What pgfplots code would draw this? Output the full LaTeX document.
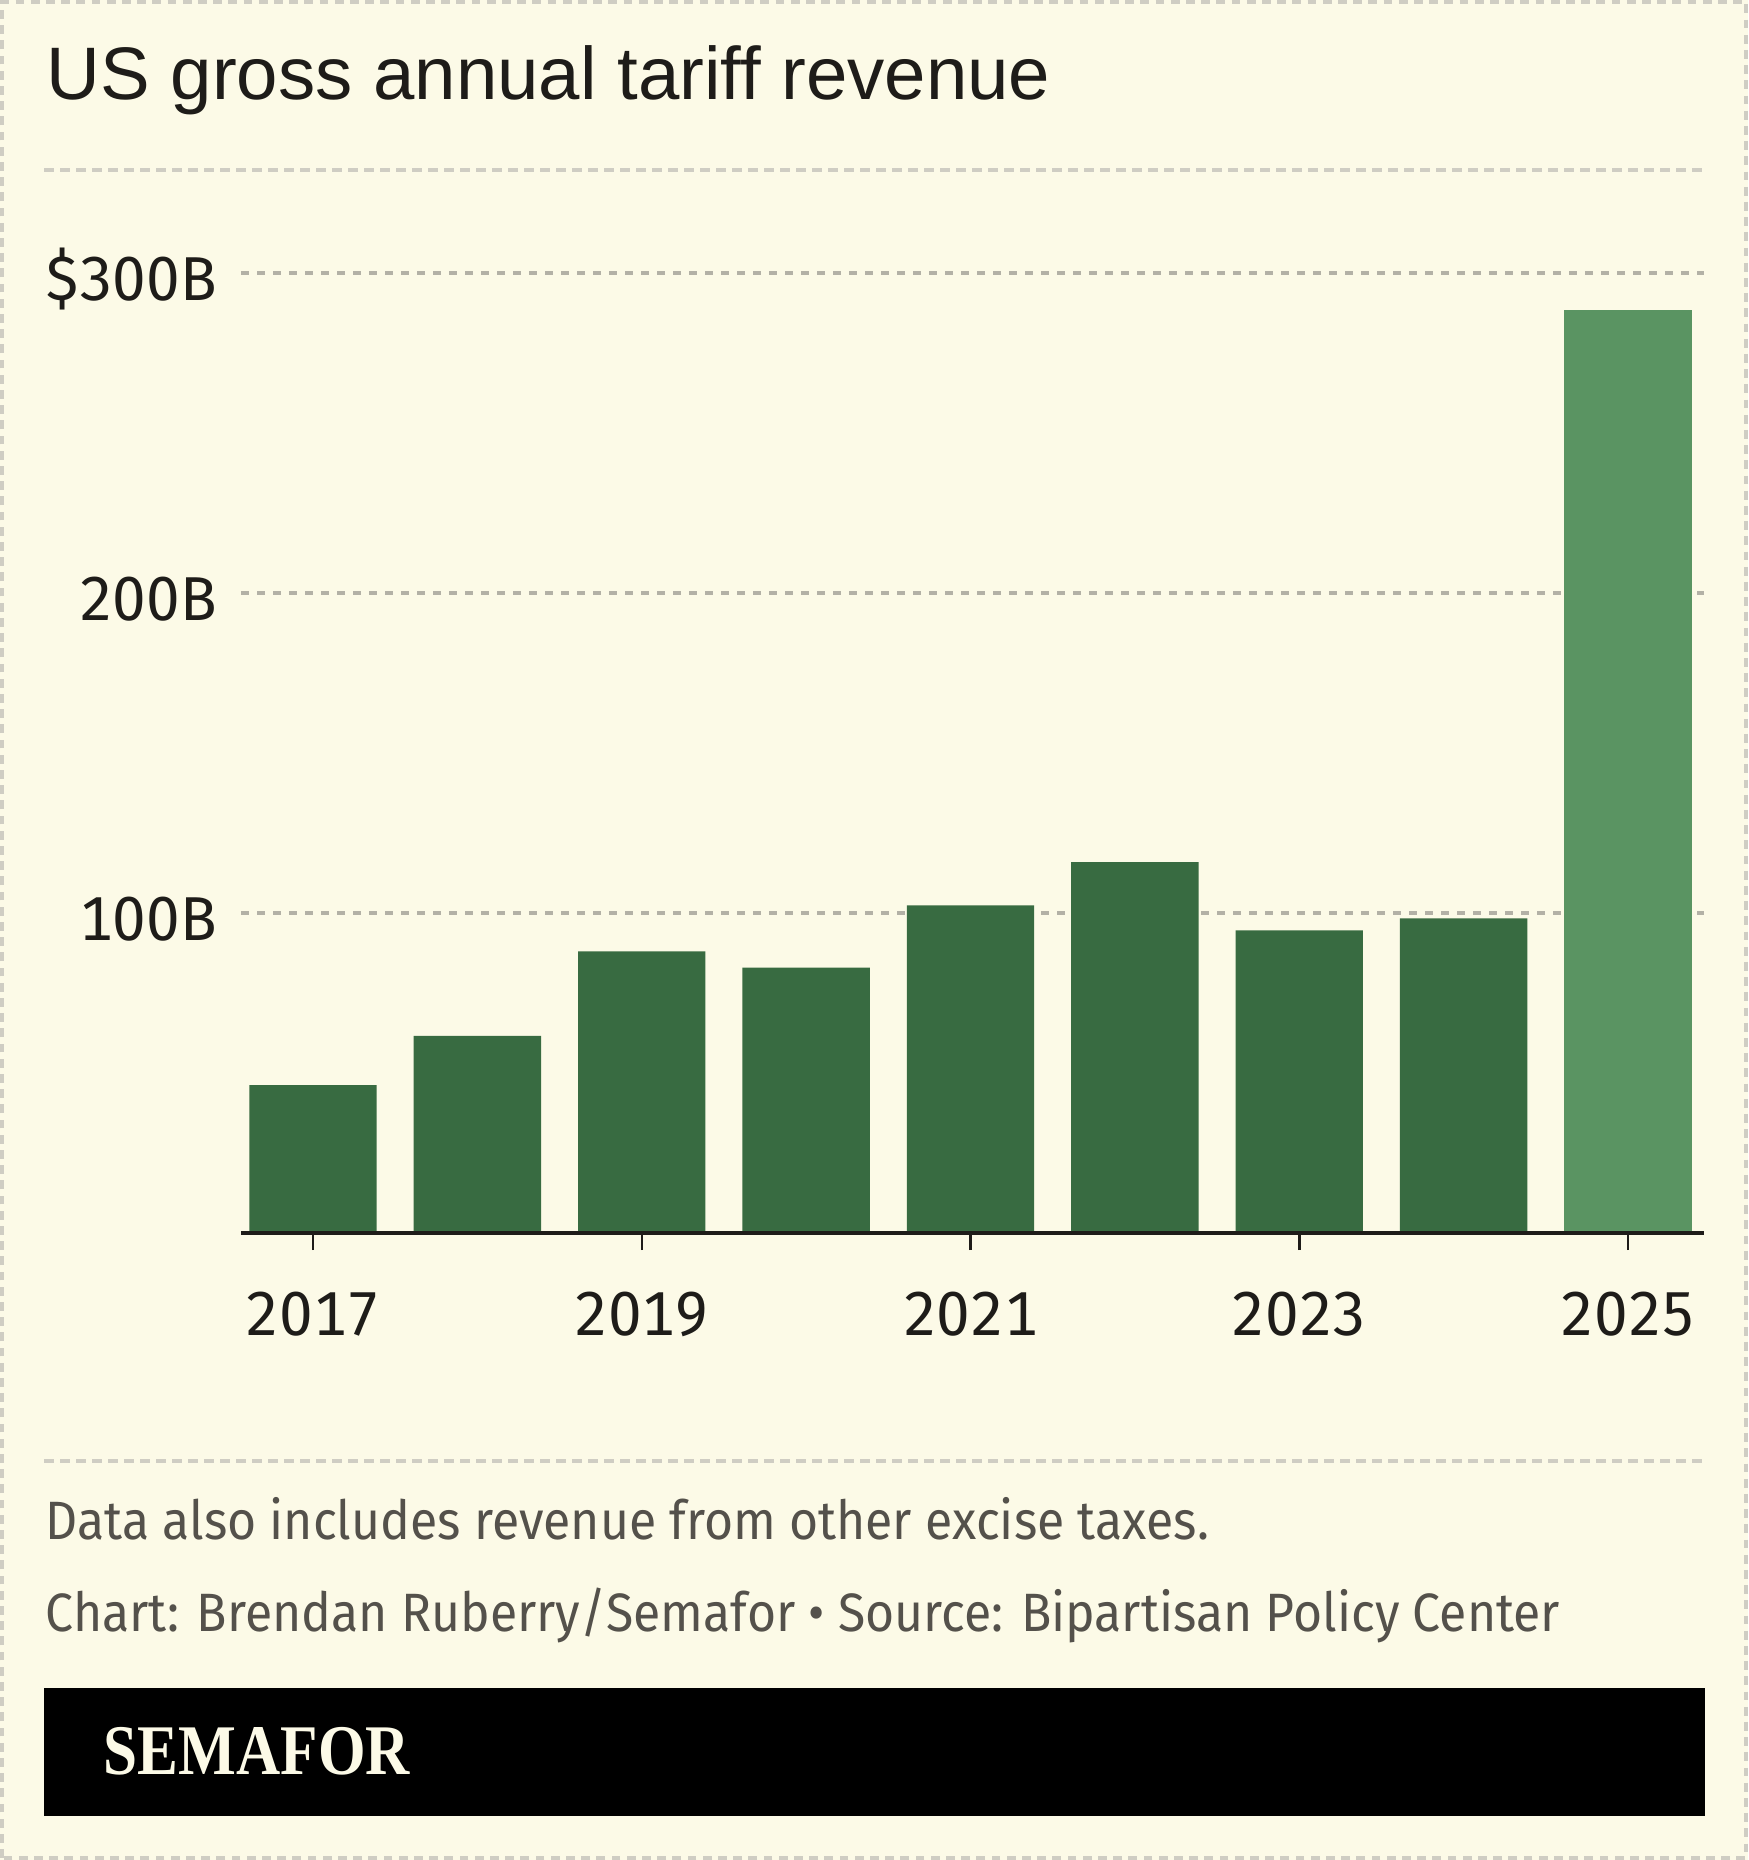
\documentclass[border=0pt]{standalone}
\usepackage{fontspec}
\setmainfont{Fira Sans}[FakeStretch=0.925]
\newfontfamily\tickfont{Fira Sans}[Numbers=Monospaced, FakeStretch=0.97]
\newfontfamily\titlefont{Liberation Sans}
\newfontfamily\logofont{Liberation Serif}[FakeStretch=0.86]
\usepackage{pgfplots}
\pgfplotsset{compat=1.18}
\definecolor{bg}{HTML}{FCFAE7}
\definecolor{darkgreen}{HTML}{386B41}
\definecolor{lightgreen}{HTML}{5A9462}
\definecolor{gridgray}{HTML}{B3B1A6}
\definecolor{sepgray}{HTML}{CFCDC3}
\definecolor{inkblack}{HTML}{1E1C19}
\definecolor{footgray}{HTML}{54514B}
\begin{document}
\begin{tikzpicture}
\useasboundingbox (0,0) rectangle (437pt,465pt);
\fill[bg] (0,0) rectangle (437pt,465pt);
\draw[sepgray, line width=0.8pt, dash pattern=on 2.2pt off 1.6pt] (0.5pt,0.5pt) rectangle (436.5pt,464.5pt);
% title
\node[anchor=base west, inner sep=0pt, text=inkblack, font=\titlefont\fontsize{18.6}{21}\selectfont] at (11.5pt,440pt) {US gross annual tariff revenue};
\draw[sepgray, line width=1pt, dash pattern=on 2.5pt off 1.5pt] (11pt,422.5pt) -- (426pt,422.5pt);
\begin{axis}[
  at={(60.25pt,156.75pt)}, anchor=south west,
  scale only axis, width=365.75pt, height=240pt,
  xmin=2016.562, xmax=2025.462, ymin=0, ymax=300,
  axis lines*=left,
  axis line style={-},
  y axis line style={draw=none},
  x axis line style={draw=none},
  ytick style={draw=none},
  xtick style={line width=0.6pt, color=inkblack},
  tick align=outside,
  major tick length=4.3pt,
  xtick={2017,2019,2021,2023,2025},
  xticklabels={2017,2019,2021,2023,2025},
  ytick={100,200,300},
  yticklabels={100B,200B,\$300B},
  ymajorgrids,
  grid style={line width=0.9pt, color=gridgray, dash pattern=on 1.9pt off 2.1pt},
  ticklabel style={font=\tickfont\fontsize{15.5}{18}\selectfont, text=inkblack},
  xticklabel style={anchor=north, yshift=-7pt},
  yticklabel style={anchor=east, xshift=1.8pt, yshift=-1.5pt},
  clip=false,
]
\addplot[ybar, bar width=0.775, bar shift=0pt, fill=darkgreen, draw=none] coordinates {
  (2017,46.2) (2018,61.6) (2019,88.0) (2020,82.9) (2021,102.4) (2022,115.9) (2023,94.6) (2024,98.3)
};
\addplot[ybar, bar width=0.775, bar shift=0pt, fill=lightgreen, draw=none] coordinates {
  (2025,288.5)
};
\draw[inkblack, line width=1.1pt] (rel axis cs:0,0) -- (rel axis cs:1,0);
\end{axis}
% footer
\draw[sepgray, line width=1pt, dash pattern=on 2.5pt off 1.5pt] (11pt,99.75pt) -- (426pt,99.75pt);
\node[anchor=base west, inner sep=0pt, text=footgray, font=\fontsize{13.5}{16}\selectfont] at (11.25pt,80pt) {Data also includes revenue from other excise taxes.};
\node[anchor=base west, inner sep=0pt, text=footgray, font=\fontsize{13.5}{16}\selectfont] at (11.25pt,57pt) {Chart: Brendan Ruberry/Semafor • Source: Bipartisan Policy Center};
\fill[black] (11pt,11pt) rectangle (426.25pt,43pt);
\node[anchor=base west, inner sep=0pt, text=bg, font=\logofont\bfseries\fontsize{17.8}{20}\selectfont] at (25.75pt,21.25pt) {SEMAFOR};
\end{tikzpicture}
\end{document}
